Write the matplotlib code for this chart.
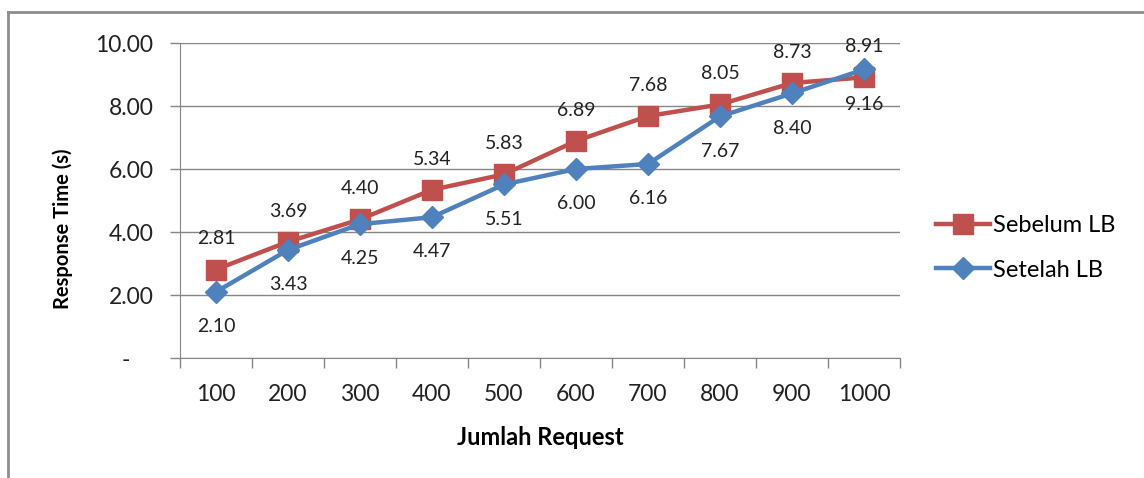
import numpy as np
import matplotlib
matplotlib.use('Agg')
import matplotlib.pyplot as plt
from matplotlib.lines import Line2D

plt.rcParams['font.family'] = ['Lato', 'DejaVu Sans']

requests = ['100', '200', '300', '400', '500', '600', '700', '800', '900', '1000']
sebelum = [2.81, 3.69, 4.40, 5.34, 5.83, 6.89, 7.68, 8.05, 8.73, 8.91]
setelah = [2.10, 3.43, 4.25, 4.47, 5.51, 6.00, 6.16, 7.67, 8.40, 9.16]
yticks = [0, 2, 4, 6, 8, 10]

red = '#C0504D'
blue = '#4F81BD'
grid = '#868686'
txt = '#222222'

fig = plt.figure(figsize=(11.44, 4.78), dpi=100)
ax = fig.add_axes([0.1573, 0.2510, 0.6294, 0.6590])

x = np.arange(len(requests))
ax.plot(x, sebelum, color=red, lw=3.2, marker='s', markersize=14,
        label='Sebelum LB', zorder=3)
ax.plot(x, setelah, color=blue, lw=3.2, marker='D', markersize=11,
        label='Setelah LB', zorder=4)

for xi, v in zip(x, sebelum):
    ax.annotate('%.2f' % v, (xi, v), xytext=(0, 22), textcoords='offset points',
                ha='center', va='center', fontsize=14, color=txt)
for xi, v in zip(x, setelah):
    ax.annotate('%.2f' % v, (xi, v), xytext=(0, -25), textcoords='offset points',
                ha='center', va='center', fontsize=14, color=txt)

ax.set_xlim(-0.5, len(requests) - 0.5)
ax.set_ylim(0, 10)
ax.set_yticks(yticks)
ax.set_yticklabels(['-    '] + ['%.2f' % t for t in yticks[1:]])
ax.set_xticks(x)
ax.set_xticklabels(requests)
ax.set_xticks(np.arange(len(requests) + 1) - 0.5, minor=True)
ax.tick_params(axis='x', which='major', length=0, pad=19, labelsize=16.5,
               labelcolor=txt)
ax.tick_params(axis='x', which='minor', length=7, color=grid, width=1)
ax.tick_params(axis='y', length=7, color=grid, width=1, pad=12, labelsize=16.5,
               labelcolor=txt)

ax.yaxis.grid(True, color=grid, lw=1)
ax.set_axisbelow(True)
for s in ['top', 'right']:
    ax.spines[s].set_visible(False)
for s in ['left', 'bottom']:
    ax.spines[s].set_color(grid)

ax.set_xlabel('Jumlah Request', fontsize=17, fontweight='bold', labelpad=15)
ax.set_ylabel('Response Time (s)', fontsize=14.5, fontweight='bold')
ax.yaxis.set_label_coords(-0.149, 0.41)

ax.legend(loc='center left', bbox_to_anchor=(1.05, 0.35), frameon=False,
          fontsize=17, handlelength=2.3, handletextpad=0.1, labelspacing=1.0,
          borderpad=0, borderaxespad=0)

# outer chart border (top and left visible)
fig.add_artist(Line2D([8 / 1144, 1], [1 - 12 / 478, 1 - 12 / 478],
                      color='#8c8c8c', lw=2, transform=fig.transFigure))
fig.add_artist(Line2D([8 / 1144, 8 / 1144], [0, 1 - 12 / 478],
                      color='#8c8c8c', lw=2, transform=fig.transFigure))

fig.savefig('out.png', dpi=100)
